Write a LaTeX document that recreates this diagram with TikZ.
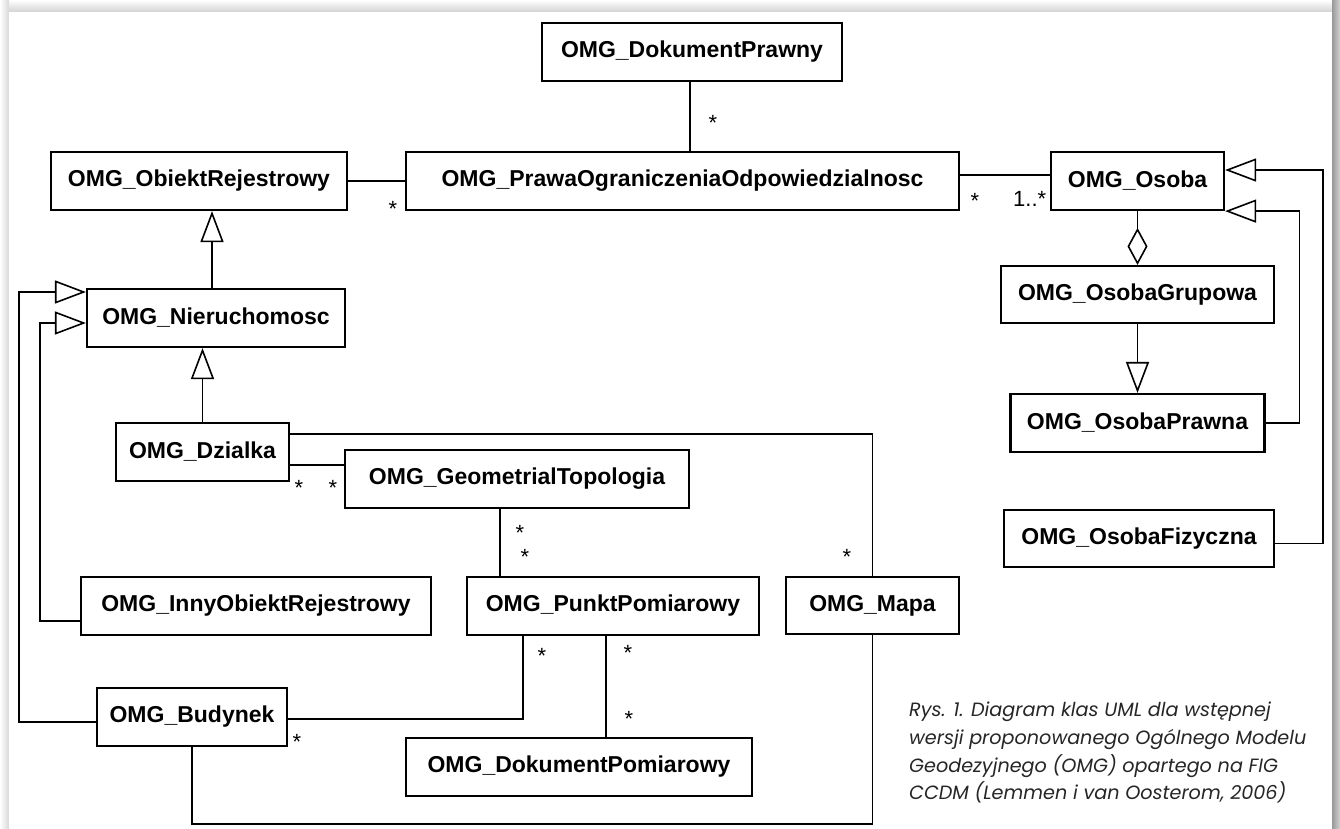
\documentclass[tikz,border=0pt]{standalone}
\usepackage{fontspec}
\setmainfont{Liberation Sans}
\newfontfamily\podpisfont{Poppins}
\usepackage{xcolor}
\usepackage{tikz}
\usetikzlibrary{arrows.meta, calc, positioning}

\definecolor{podpis}{HTML}{262626}

\tikzset{
    klasa/.style={draw, line width=2.2pt, fill=white, minimum height=58pt, inner sep=0pt,
        font=\bfseries\fontsize{23}{27}\selectfont},
    assoc/.style={line width=1.6pt},
    gen/.style={assoc, -{Triangle[open, length=31pt, width=23pt, line width=1.6pt]}},
    agg/.style={assoc, {Diamond[open, length=37pt, width=20pt, line width=1.6pt]}-},
    kr/.style={anchor=base, inner sep=0pt, font=\fontsize{22}{24}\selectfont},
}

\begin{document}
\begin{tikzpicture}[x=1pt, y=-1pt]
    % tlo strony z cieniem
    \useasboundingbox (0,0) rectangle (1340,828);
    \fill[white] (0,0) rectangle (1340,828);
    \shade[top color=white, bottom color=gray!35] (0,0) rectangle (1340,12);
    \shade[left color=white, right color=gray!30] (0,0) rectangle (9,828);
    \shade[left color=gray!80, right color=gray!35] (1332,0) rectangle (1340,828);
    \fill[white] (9,12) rectangle (1332,828);

    % klasy
    \node[klasa, minimum width=300pt] (dokpr) at (692,52) {OMG\_DokumentPrawny};
    \node[klasa, minimum width=296pt] (obiekt) at (199,181) {OMG\_ObiektRejestrowy};
    \node[klasa, minimum width=553pt] (prawa) at (682.5,181) {OMG\_PrawaOgraniczeniaOdpowiedzialnosc};
    \node[klasa, minimum width=173pt] (osoba) at (1137.5,181) {OMG\_Osoba};
    \node[klasa, minimum width=273pt, minimum height=57pt] (grupowa) at (1137.5,294.5) {OMG\_OsobaGrupowa};
    \node[klasa, minimum width=254pt] (prawna) at (1137.5,423) {OMG\_OsobaPrawna};
    \node[klasa, minimum width=270pt, minimum height=57pt] (fizyczna) at (1139,538.5) {OMG\_OsobaFizyczna};
    \node[klasa, minimum width=258pt] (nier) at (216,318) {OMG\_Nieruchomosc};
    \node[klasa, minimum width=173pt] (dzialka) at (202.5,452) {OMG\_Dzialka};
    \node[klasa, minimum width=344pt] (geo) at (517,479) {OMG\_GeometrialTopologia};
    \node[klasa, minimum width=350pt] (inny) at (256,606) {OMG\_InnyObiektRejestrowy};
    \node[klasa, minimum width=292pt] (punkt) at (613,606) {OMG\_PunktPomiarowy};
    \node[klasa, minimum width=173pt, minimum height=57pt] (mapa) at (872.5,605.5) {OMG\_Mapa};
    \node[klasa, minimum width=190pt] (budynek) at (192,717) {OMG\_Budynek};
    \node[klasa, minimum width=346pt] (dokpom) at (579,767) {OMG\_DokumentPomiarowy};

    % powiazania
    \draw[assoc] ([xshift=-2pt]dokpr.south) -- ([xshift=-2pt]dokpr.south |- prawa.north);
    \draw[assoc] (obiekt.east) -- (obiekt.east -| prawa.west);
    \draw[assoc] ([yshift=6pt]prawa.east) -- ([yshift=6pt]osoba.west);
    \draw[agg] (grupowa.north) -- (osoba.south);
    \draw[gen] (grupowa.south) -- (prawna.north);
    \draw[gen] (prawna.east) -- ++(34,0) |- (osoba.south east);
    \draw[gen] ([yshift=-5pt]fizyczna.east) -- ++(48,0) |- ([yshift=11pt]osoba.east);
    \draw[gen] ([xshift=-4pt]nier.north) -- ([xshift=-4pt]nier.north |- obiekt.south);
    \draw[gen] (dzialka.north) -- (dzialka.north |- nier.south);
    \draw[gen] ([yshift=-5pt]budynek.west) -- ++(-77,0) |- ([yshift=26pt]nier.west);
    \draw[gen] ([yshift=-15pt]inny.west) -- ++(-40,0) |- ([yshift=-5pt]nier.west);
    \draw[assoc] ([yshift=18pt]dzialka.east) -| (mapa.north);
    \draw[assoc] ([yshift=-13pt]dzialka.east) -- ([yshift=-13pt]dzialka.east -| geo.west);
    \draw[assoc] ([xshift=-17pt]geo.south) -- ([xshift=-17pt]geo.south |- punkt.north);
    \draw[assoc] ([xshift=-90pt]punkt.south) |- ([yshift=-2pt]budynek.east);
    \draw[assoc] ([xshift=-7pt]punkt.south) -- ([xshift=-7pt]punkt.south |- dokpom.north);
    \draw[assoc] (budynek.south) -- ++(0,77) -| (mapa.south);

    % krotnosci
    \node[kr] (k1) at (713,130) {*};
    \node[kr] (k2) at (393,216) {*};
    \node[kr] (k3) at (975,208) {*};
    \node[kr, anchor=base west] (k4) at (1013,206) {1..*};
    \node[kr] (k5) at (847,564) {*};
    \node[kr] (k6) at (299,495) {*};
    \node[kr] (k7) at (333,495) {*};
    \node[kr] (k8) at (520,540) {*};
    \node[kr] (k9) at (525,564) {*};
    \node[kr] (k10) at (542,663) {*};
    \node[kr] (k11) at (297,749) {*};
    \node[kr] (k12) at (628,660) {*};
    \node[kr] (k13) at (629,726) {*};

    % podpis
    \node[anchor=north west, align=left, inner sep=0pt, text=podpis,
        font=\podpisfont\itshape\fontsize{19.2}{27.7}\selectfont] (podpis) at (909,702)
        {Rys. 1. Diagram klas UML dla wstępnej\\wersji proponowanego Ogólnego Modelu\\Geodezyjnego (OMG) opartego na FIG\\CCDM (Lemmen i van Oosterom, 2006)};
\end{tikzpicture}
\end{document}
